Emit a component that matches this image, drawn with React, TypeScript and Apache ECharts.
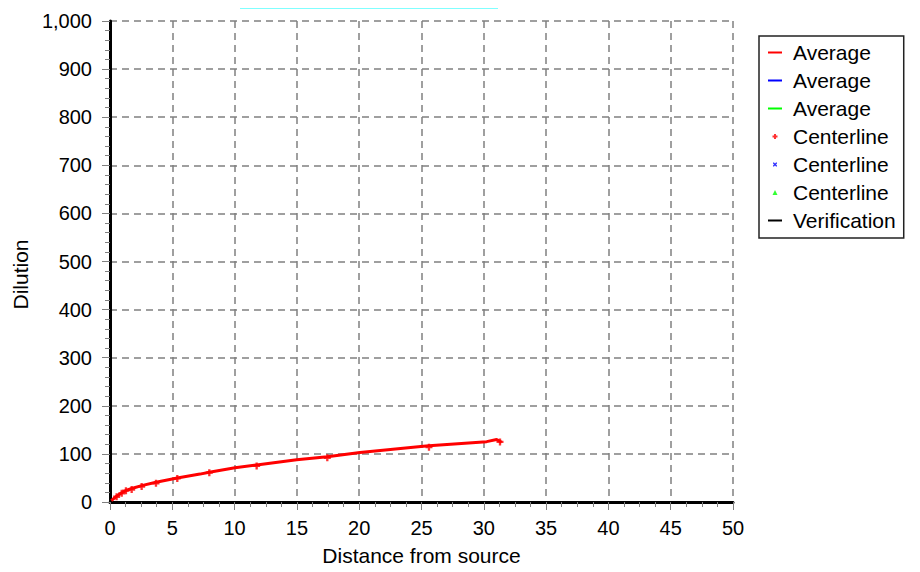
import React, { useEffect, useRef } from "react";
import * as echarts from "echarts";

const titleText = "Plumes Dilution Prediction";
const xAxisName = "Distance from source";
const yAxisName = "Dilution";

// Average (red) curve: [distance, dilution]
const averageRed: number[][] = [
  [0.1, 3], [0.53, 12], [0.94, 19], [1.28, 24], [1.74, 28], [2.54, 34],
  [3.69, 41], [5.4, 50], [7.22, 58], [7.97, 62], [10.03, 71], [11.77, 77],
  [14.98, 88], [17.44, 94], [20.06, 103], [25.15, 116], [25.6, 117],
  [30.23, 125.5], [31.03, 130], [31.43, 124],
];
// Centerline (red) markers
const centerlineRed: number[][] = [
  [0.53, 11], [0.94, 18], [1.28, 23.5], [1.74, 26], [2.54, 32], [3.69, 39],
  [5.4, 49], [7.97, 61], [11.77, 75], [17.44, 92], [25.6, 114], [31.3, 125],
];
const averageBlue: number[][] = [];
const averageGreen: number[][] = [];
const centerlineBlue: number[][] = [];
const centerlineGreen: number[][] = [];
const verification: number[][] = [];

const legendNames = [
  "Average|r", "Average|b", "Average|g",
  "Centerline|r", "Centerline|b", "Centerline|g", "Verification",
];

const FONT = "'Liberation Sans', Arial, sans-serif";
const LINE_ICON = "path://M0,0H14V2H0Z";
const PLUS_ICON = "path://M0,0L0,0M14,14L14,14M6,4.5H8V9.5H6ZM4.5,6H9.5V8H4.5Z";
const X_ICON = "path://M0,0L0,0M14,14L14,14M5,5L6,5L7,6L8,5L9,5L9,6L8,7L9,8L9,9L8,9L7,8L6,9L5,9L5,8L6,7L5,6Z";
const TRI_ICON = "path://M0,0L0,0M14,14L14,14M7,4.5L9.5,9.5L4.5,9.5Z";

export default function App() {
  const ref = useRef<HTMLDivElement>(null);
  useEffect(() => {
    if (!ref.current) return;
    const chart = echarts.init(ref.current, null, { renderer: "svg" });
    const tickColor = "#808080";
    chart.setOption({
      animation: false,
      backgroundColor: "#ffffff",
      textStyle: { fontFamily: FONT },
      graphic: [
        {
          type: "rect",
          x: 240,
          y: 0,
          shape: { x: 0, y: 0, width: 258, height: 9 },
          style: { fill: "#80ffff" },
          z: 10,
        },
        {
          type: "text",
          x: 369,
          y: -1.5,
          z: 11,
          style: {
            text: titleText,
            font: "21px 'Liberation Sans', Arial, sans-serif",
            fill: "#0000cc",
            align: "center",
            verticalAlign: "middle",
          },
        },
      ],
      legend: {
        orient: "vertical",
        left: 759,
        top: 36,
        padding: [6, 8, 7, 9],
        itemGap: 7,
        itemWidth: 14,
        itemHeight: 14,
        borderColor: "#222",
        borderWidth: 1.5,
        selectedMode: false,
        itemStyle: { borderWidth: 0 },
        formatter: (n: string) => n.split("|")[0],
        textStyle: { fontFamily: FONT, fontSize: 21, lineHeight: 21, color: "#000", padding: [0, 0, 0, 6] },
        data: [
          { name: legendNames[0], icon: LINE_ICON },
          { name: legendNames[1], icon: LINE_ICON },
          { name: legendNames[2], icon: LINE_ICON },
          { name: legendNames[3], icon: PLUS_ICON },
          { name: legendNames[4], icon: X_ICON },
          { name: legendNames[5], icon: TRI_ICON },
          { name: legendNames[6], icon: LINE_ICON },
        ],
      },
      grid: { left: 110, right: 187, top: 21, bottom: 70, containLabel: false },
      xAxis: {
        type: "value",
        min: 0,
        max: 50,
        interval: 5,
        name: xAxisName,
        nameLocation: "middle",
        nameGap: 43,
        nameTextStyle: { fontFamily: FONT, fontSize: 21, color: "#000" },
        axisLine: { show: true, onZero: false, lineStyle: { color: "#000", width: 3 } },
        axisTick: { show: true, inside: false, length: 8, lineStyle: { color: tickColor } },
        minorTick: { show: true, splitNumber: 4, length: 5, lineStyle: { color: tickColor } },
        axisLabel: { margin: 16, fontFamily: FONT, fontSize: 20, color: "#000" },
        splitLine: { show: true, lineStyle: { color: "#808080", type: [7, 5], width: 1.5 } },
      },
      yAxis: {
        type: "value",
        min: 0,
        max: 1000,
        interval: 100,
        name: yAxisName,
        nameLocation: "middle",
        nameGap: 77,
        nameRotate: 90,
        nameTextStyle: { fontFamily: FONT, fontSize: 21, color: "#000", padding: [0, 26, 0, 0] },
        axisLine: { show: true, onZero: false, lineStyle: { color: "#000", width: 3 } },
        axisTick: { show: true, inside: false, length: 8, lineStyle: { color: tickColor } },
        minorTick: { show: true, splitNumber: 5, length: 5, lineStyle: { color: tickColor } },
        axisLabel: {
          margin: 18,
          fontFamily: FONT,
          fontSize: 20,
          color: "#000",
          formatter: (v: number) => v.toLocaleString("en-US"),
        },
        splitLine: { show: true, lineStyle: { color: "#808080", type: [7, 5], width: 1.5 } },
      },
      series: [
        { name: legendNames[0], type: "line", color: "#ff0000", data: averageRed, showSymbol: false, symbol: "none", lineStyle: { width: 3, color: "#ff0000" } },
        { name: legendNames[1], type: "line", color: "#0000ff", data: averageBlue, showSymbol: false, symbol: "none", lineStyle: { width: 2.5 } },
        { name: legendNames[2], type: "line", color: "#00ff00", data: averageGreen, showSymbol: false, symbol: "none", lineStyle: { width: 2.5 } },
        {
          name: legendNames[3], type: "scatter", color: "#ff0000", data: centerlineRed,
          symbol: "path://M2,0H4V2H6V4H4V6H2V4H0V2H2Z", symbolSize: 7, itemStyle: { color: "#ff0000" },
        },
        { name: legendNames[4], type: "scatter", color: "#0000ff", data: centerlineBlue, symbolSize: 6 },
        { name: legendNames[5], type: "scatter", color: "#00ff00", data: centerlineGreen, symbolSize: 6 },
        { name: legendNames[6], type: "line", color: "#000000", data: verification, showSymbol: false, symbol: "none", lineStyle: { width: 2.5 } },
      ],
    });
    return () => chart.dispose();
  }, []);
  return <div ref={ref} style={{ width: 920, height: 572, margin: -8 }} />;
}
